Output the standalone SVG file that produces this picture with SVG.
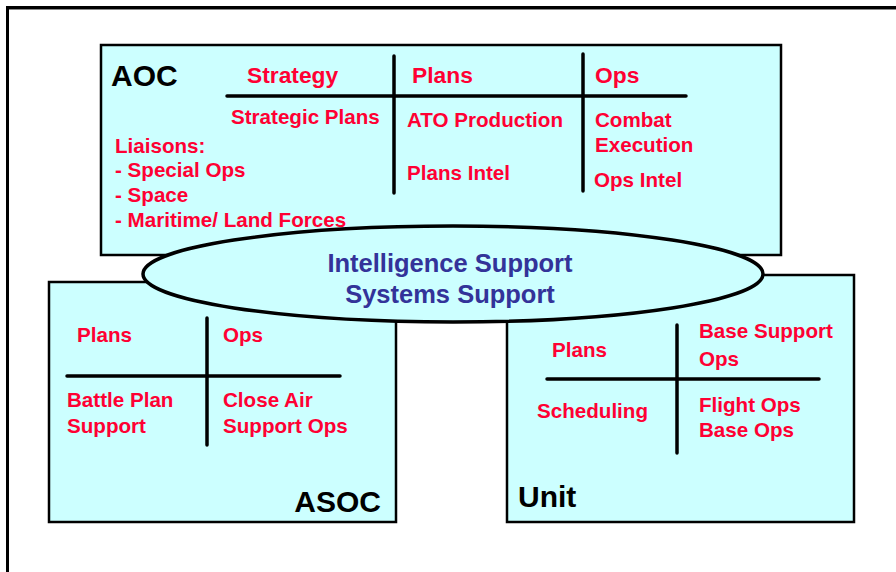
<svg xmlns="http://www.w3.org/2000/svg" width="896" height="572" viewBox="0 0 896 572">
<style>
.box{fill:#CCFFFF;stroke:#000;stroke-width:2.5}
.div{stroke:#000;stroke-width:3.5;stroke-linecap:round;fill:none}
.t{font-family:"Liberation Sans",Arial,sans-serif;font-weight:bold;font-size:20.6px;fill:#FF0033}
.h{font-size:22.8px}
.ttl{font-family:"Liberation Sans",Arial,sans-serif;font-weight:bold;font-size:30px;fill:#000}
.e{font-family:"Liberation Sans",Arial,sans-serif;font-weight:bold;font-size:25.5px;fill:#333399;text-anchor:middle}
</style>
<rect width="896" height="572" fill="#fff"/>
<rect x="7.5" y="7.5" width="900" height="600" fill="none" stroke="#000" stroke-width="3"/>
<line x1="9" y1="9.5" x2="896" y2="9.5" stroke="#888" stroke-width="1"/>

<g id="aoc">
<rect class="box" x="101" y="45" width="680" height="210"/>
<line class="div" x1="227" y1="96" x2="686" y2="96"/>
<line class="div" x1="394" y1="56" x2="394" y2="193"/>
<line class="div" x1="583" y1="54" x2="583" y2="191"/>
<text class="ttl" x="111" y="86">AOC</text>
<text class="t h" x="247" y="83">Strategy</text>
<text class="t h" x="412" y="83">Plans</text>
<text class="t h" x="595" y="83">Ops</text>
<text class="t" x="231" y="124">Strategic Plans</text>
<text class="t" x="407" y="127">ATO Production</text>
<text class="t" x="407" y="180">Plans Intel</text>
<text class="t" x="595" y="127">Combat</text>
<text class="t" x="595" y="152">Execution</text>
<text class="t" x="594" y="187">Ops Intel</text>
<text class="t" x="115" y="153">Liaisons:</text>
<text class="t" x="115" y="177">- Special Ops</text>
<text class="t" x="115" y="202">- Space</text>
<text class="t" x="115" y="227">- Maritime/ Land Forces</text>
</g>

<g id="asoc">
<rect class="box" x="49" y="282" width="347" height="240"/>
<line class="div" x1="67" y1="376" x2="340" y2="376"/>
<line class="div" x1="207" y1="318" x2="207" y2="445"/>
<text class="t" x="77" y="342">Plans</text>
<text class="t" x="223" y="342">Ops</text>
<text class="t" x="67" y="407">Battle Plan</text>
<text class="t" x="67" y="433">Support</text>
<text class="t" x="223" y="407">Close Air</text>
<text class="t" x="223" y="433">Support Ops</text>
<text class="ttl" x="381" y="512" text-anchor="end">ASOC</text>
</g>

<g id="unit">
<rect class="box" x="507" y="275" width="347" height="247"/>
<line class="div" x1="547" y1="379" x2="819" y2="379"/>
<line class="div" x1="677" y1="325" x2="677" y2="453"/>
<text class="t" x="552" y="357">Plans</text>
<text class="t" x="699" y="338">Base Support</text>
<text class="t" x="699" y="366">Ops</text>
<text class="t" x="537" y="418">Scheduling</text>
<text class="t" x="699" y="412">Flight Ops</text>
<text class="t" x="699" y="437">Base Ops</text>
<text class="ttl" x="518" y="507">Unit</text>
</g>

<g id="support">
<ellipse cx="453" cy="274" rx="310" ry="48" fill="#CCFFFF" stroke="#000" stroke-width="3.5"/>
<text class="e" x="450" y="272">Intelligence Support</text>
<text class="e" x="450" y="303">Systems Support</text>
</g>

<g id="connectors"></g>
</svg>
